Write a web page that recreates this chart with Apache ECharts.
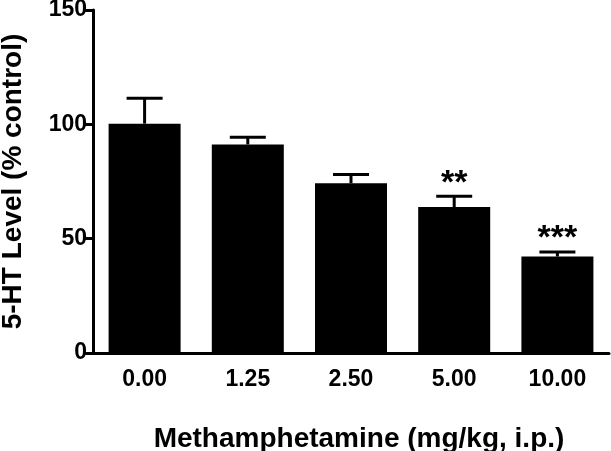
<!DOCTYPE html>
<html>
<head>
<meta charset="utf-8">
<script src="https://cdn.jsdelivr.net/npm/echarts@6/dist/echarts.min.js"></script>
<style>html,body{margin:0;padding:0;background:#fff}#c{width:611px;height:451px}</style>
</head>
<body>
<div id="c"></div>
<script>
var categories = ['0.00', '1.25', '2.50', '5.00', '10.00'];
var means = [100.3, 91.2, 74.2, 63.8, 42.2];
var errorTops = [111.4, 94.3, 78.1, 68.6, 44.2];
var significance = ['', '', '', '**', '***'];
var yTicks = [0, 50, 100, 150];

var FONT = '"Liberation Sans", Arial, sans-serif';
var chart = echarts.init(document.getElementById('c'), null, {renderer: 'canvas'});

var errData = categories.map(function (c, i) { return [i, means[i], errorTops[i], significance[i]]; });

chart.setOption({
  animation: false,
  backgroundColor: '#fff',
  grid: {left: 93, right: 2, top: 10, bottom: 98, containLabel: false, outerBoundsMode: 'none'},
  xAxis: {
    type: 'category',
    data: categories,
    name: 'Methamphetamine (mg/kg, i.p.)',
    nameLocation: 'middle',
    nameGap: 72,
    nameTextStyle: {fontFamily: FONT, fontWeight: 'bold', fontSize: 28, color: '#000', padding: [0, 0, 0, 16]},
    axisLine: {lineStyle: {color: '#000', width: 3}},
    axisTick: {alignWithLabel: true, length: 9, lineStyle: {color: '#000', width: 3}},
    axisLabel: {fontFamily: FONT, fontWeight: 'bold', fontSize: 23, color: '#000', margin: 15}
  },
  yAxis: {
    type: 'value',
    min: yTicks[0],
    max: yTicks[yTicks.length - 1],
    interval: 50,
    name: '5-HT Level (% control)',
    nameLocation: 'middle',
    nameRotate: 90,
    nameGap: 66,
    nameTextStyle: {fontFamily: FONT, fontWeight: 'bold', fontSize: 28, color: '#000'},
    axisLine: {show: true, lineStyle: {color: '#000', width: 3}},
    axisTick: {show: true, length: 9, lineStyle: {color: '#000', width: 3}},
    axisLabel: {fontFamily: FONT, fontWeight: 'bold', fontSize: 23, color: '#000', margin: 6},
    splitLine: {show: false}
  },
  series: [
    {
      type: 'bar',
      data: means,
      barWidth: 72,
      itemStyle: {color: '#000'},
      z: 2
    },
    {
      type: 'custom',
      data: errData,
      z: 3,
      renderItem: function (params, api) {
        var x = api.value(0);
        var base = api.coord([x, api.value(1)]);
        var top = api.coord([x, api.value(2)]);
        var half = 18;
        var children = [
          {type: 'line', shape: {x1: base[0], y1: base[1], x2: top[0], y2: top[1]}, style: {stroke: '#000', lineWidth: 3}},
          {type: 'line', shape: {x1: top[0] - half, y1: top[1], x2: top[0] + half, y2: top[1]}, style: {stroke: '#000', lineWidth: 3}}
        ];
        var sig = api.value(3);
        if (sig) {
          children.push({
            type: 'text',
            style: {
              text: sig, x: top[0], y: top[1] - 13,
              textAlign: 'center', textVerticalAlign: 'middle',
              font: 'bold 34px ' + FONT, fill: '#000'
            }
          });
        }
        return {type: 'group', children: children};
      }
    }
  ]
});
</script>
</body>
</html>
